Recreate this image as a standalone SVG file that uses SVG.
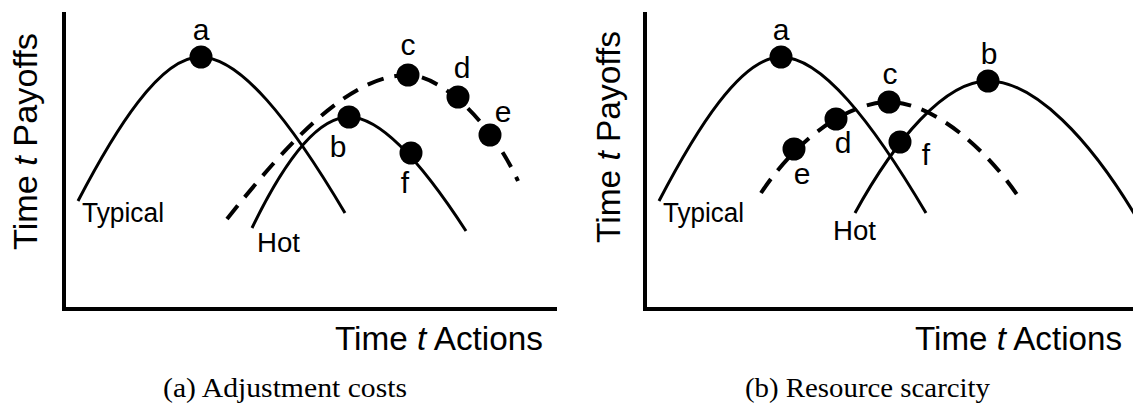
<svg xmlns="http://www.w3.org/2000/svg" width="1133" height="403" viewBox="0 0 1133 403">
<style>
.axis{stroke:#000;stroke-width:4;fill:none;stroke-linecap:butt}
.curve{stroke:#000;stroke-width:3;fill:none}
.dash{stroke:#000;stroke-width:4;fill:none;stroke-dasharray:17 11}
.dot{fill:#000}
.lbl{font-family:"Liberation Sans",Arial,sans-serif;font-size:30px;fill:#000;text-anchor:middle}
.name{font-family:"Liberation Sans",Arial,sans-serif;font-size:27px;fill:#000}
.ax{font-family:"Liberation Sans",Arial,sans-serif;font-size:33px;fill:#000}
.cap{font-family:"Liberation Serif","Times New Roman",serif;font-size:27px;fill:#000}
</style>
<g id="panel-a">
  <g id="axes-a">
    <line class="axis" x1="64" y1="12" x2="64" y2="311"/>
    <line class="axis" x1="62" y1="309" x2="557" y2="309"/>
    <text class="ax" transform="translate(37,250) rotate(-90)" textLength="217" lengthAdjust="spacingAndGlyphs">Time <tspan font-style="italic">t</tspan> Payoffs</text>
    <text class="ax" x="335" y="350" textLength="208" lengthAdjust="spacingAndGlyphs">Time <tspan font-style="italic">t</tspan> Actions</text>
  </g>
  <g id="curves-a">
    <path id="typical-a" class="curve" d="M78,201 C115,130 160,57 200,57 C240,57 290,120 345,213"/>
    <path id="hot-a" class="curve" d="M252,228 C280,170 315,117 349,117 C380,117 420,160 466,231"/>
    <path id="dashed-a" class="dash" d="M227,219 C290,140 350,75 408,75 C440,75 490,120 518,181"/>
  </g>
  <g id="points-a">
    <g id="a-a"><circle class="dot" cx="201" cy="57" r="11.5"/><text class="lbl" x="201" y="40">a</text></g>
    <g id="a-b"><circle class="dot" cx="349" cy="117" r="11.5"/><text class="lbl" x="338" y="157">b</text></g>
    <g id="a-c"><circle class="dot" cx="408" cy="75" r="11.5"/><text class="lbl" x="408" y="55">c</text></g>
    <g id="a-d"><circle class="dot" cx="458" cy="97" r="11.5"/><text class="lbl" x="462" y="78">d</text></g>
    <g id="a-e"><circle class="dot" cx="490" cy="135" r="11.5"/><text class="lbl" x="503" y="122">e</text></g>
    <g id="a-f"><circle class="dot" cx="411" cy="153" r="11.5"/><text class="lbl" x="405" y="193">f</text></g>
  </g>
  <text class="name" x="82" y="222" textLength="82" lengthAdjust="spacingAndGlyphs">Typical</text>
  <text class="name" x="257" y="252" textLength="43" lengthAdjust="spacingAndGlyphs">Hot</text>
  <text class="cap" x="163" y="397" textLength="244" lengthAdjust="spacingAndGlyphs">(a) Adjustment costs</text>
</g>
<g id="panel-b">
  <g id="axes-b">
    <line class="axis" x1="645" y1="12" x2="645" y2="311"/>
    <line class="axis" x1="643" y1="309" x2="1133" y2="309"/>
    <text class="ax" transform="translate(620,243) rotate(-90)" textLength="212" lengthAdjust="spacingAndGlyphs">Time <tspan font-style="italic">t</tspan> Payoffs</text>
    <text class="ax" x="915" y="350" textLength="207" lengthAdjust="spacingAndGlyphs">Time <tspan font-style="italic">t</tspan> Actions</text>
  </g>
  <g id="curves-b">
    <path id="typical-b" class="curve" d="M659,201 C696,130 741,57 781,57 C821,57 871,120 926,213"/>
    <path id="hot-b" class="curve" d="M855,213 C895,140 945,81 988,81 C1035,81 1090,140 1135,215"/>
    <path id="dashed-b" class="dash" d="M761,193 C798,137 850,102 889,102 C930,102 985,145 1022,202"/>
  </g>
  <g id="points-b">
    <g id="b-a"><circle class="dot" cx="781" cy="57" r="11.5"/><text class="lbl" x="781" y="40">a</text></g>
    <g id="b-b"><circle class="dot" cx="988" cy="81" r="11.5"/><text class="lbl" x="989" y="64">b</text></g>
    <g id="b-c"><circle class="dot" cx="889" cy="102" r="11.5"/><text class="lbl" x="890" y="84">c</text></g>
    <g id="b-d"><circle class="dot" cx="836" cy="119" r="11.5"/><text class="lbl" x="843" y="153">d</text></g>
    <g id="b-e"><circle class="dot" cx="794" cy="149" r="11.5"/><text class="lbl" x="802" y="184">e</text></g>
    <g id="b-f"><circle class="dot" cx="900" cy="142" r="11.5"/><text class="lbl" x="926" y="165">f</text></g>
  </g>
  <text class="name" x="663" y="222" textLength="81" lengthAdjust="spacingAndGlyphs">Typical</text>
  <text class="name" x="833" y="240" textLength="43" lengthAdjust="spacingAndGlyphs">Hot</text>
  <text class="cap" x="745" y="397" textLength="245" lengthAdjust="spacingAndGlyphs">(b) Resource scarcity</text>
</g>
</svg>
